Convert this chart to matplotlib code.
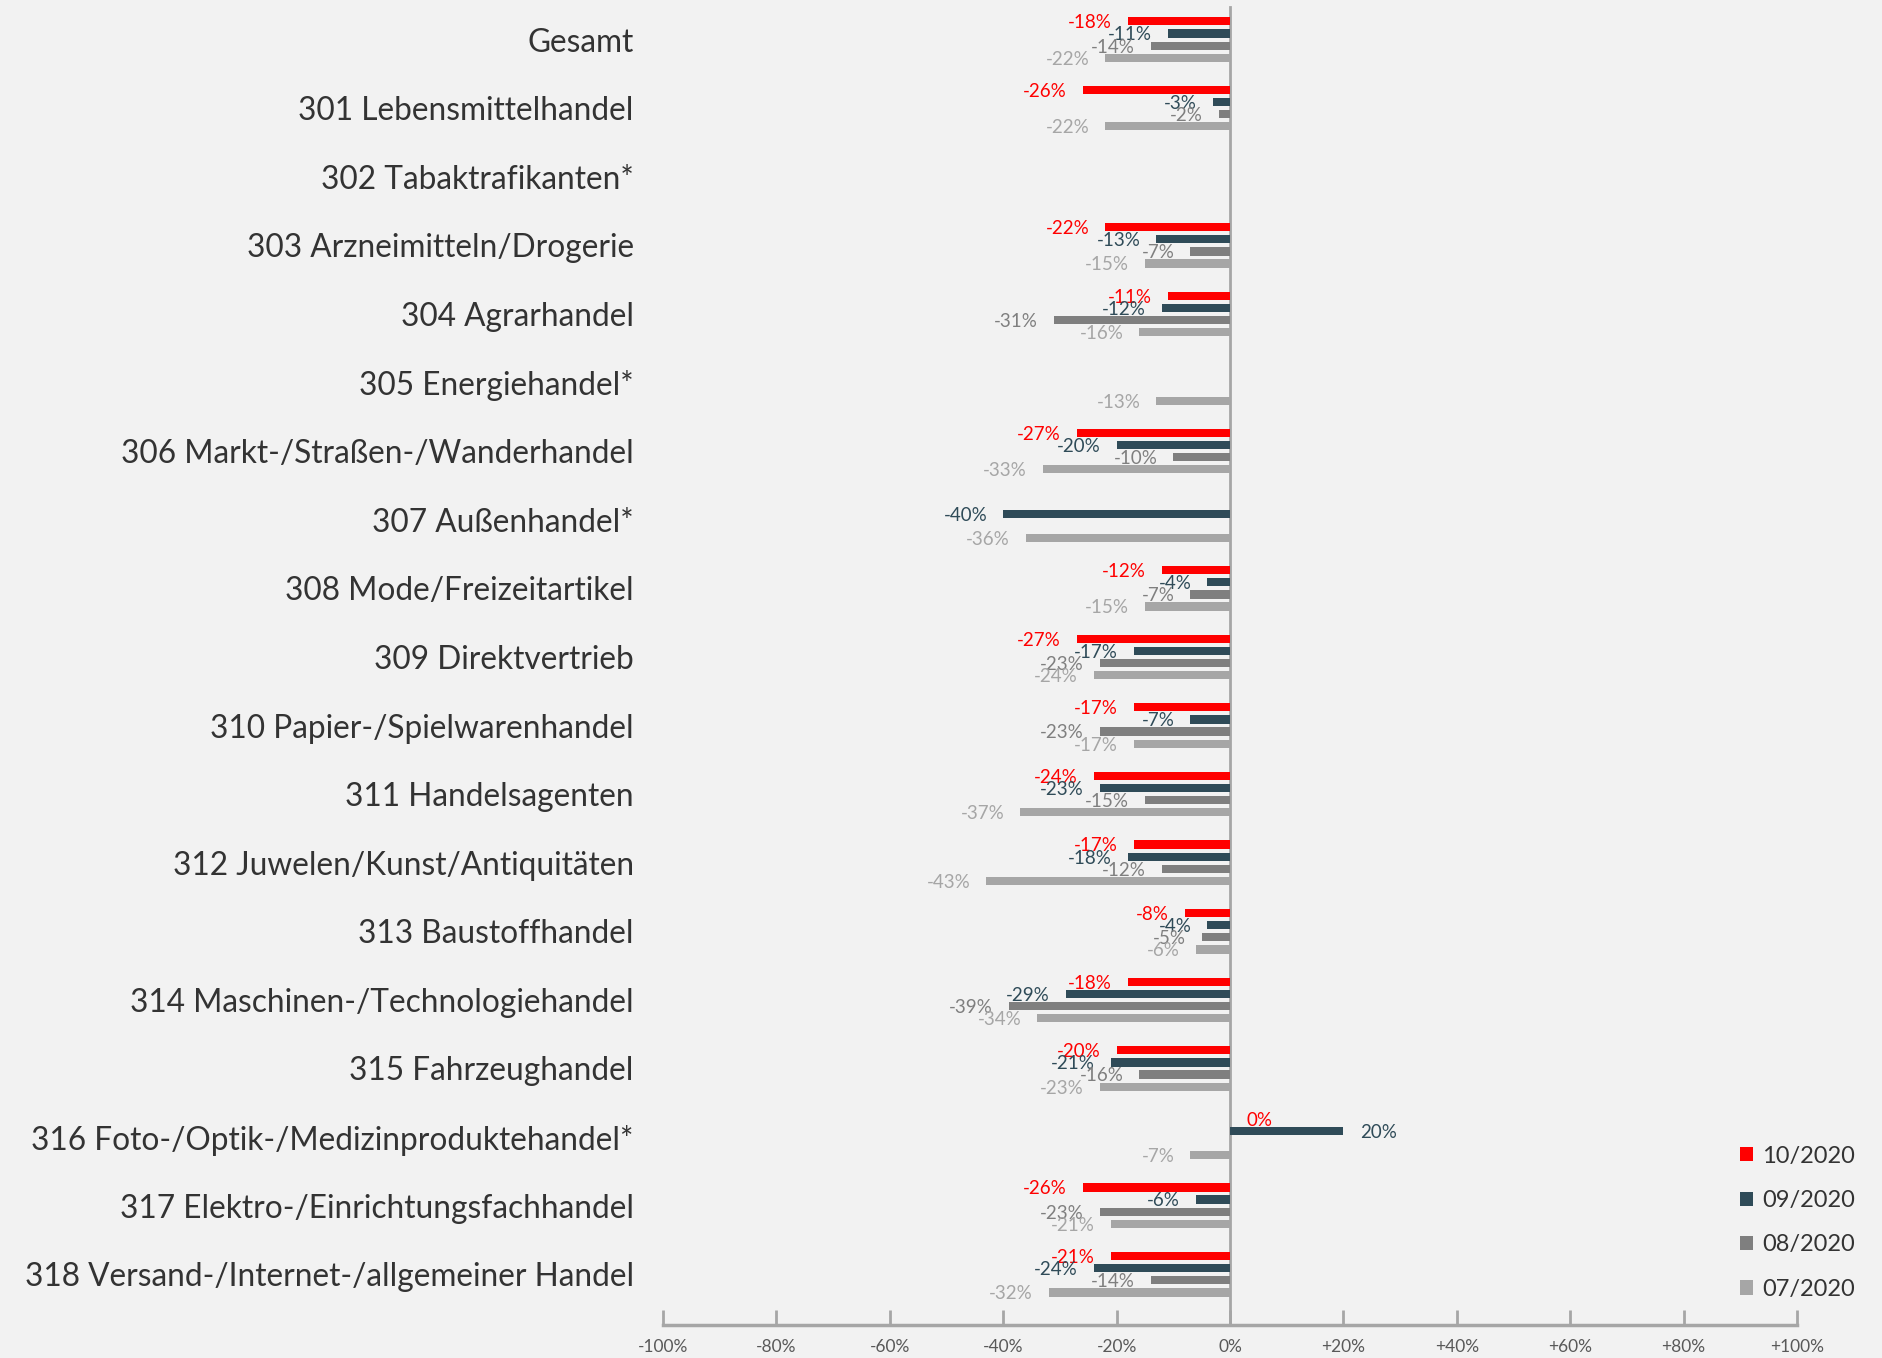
import matplotlib
matplotlib.use("Agg")
import matplotlib.pyplot as plt
from matplotlib.patches import Patch
import numpy as np

plt.rcParams['font.family'] = ['Lato', 'DejaVu Sans']

categories = [
    "Gesamt",
    "301 Lebensmittelhandel",
    "302 Tabaktrafikanten*",
    "303 Arzneimitteln/Drogerie",
    "304 Agrarhandel",
    "305 Energiehandel*",
    "306 Markt-/Straßen-/Wanderhandel",
    "307 Außenhandel*",
    "308 Mode/Freizeitartikel",
    "309 Direktvertrieb",
    "310 Papier-/Spielwarenhandel",
    "311 Handelsagenten",
    "312 Juwelen/Kunst/Antiquitäten",
    "313 Baustoffhandel",
    "314 Maschinen-/Technologiehandel",
    "315 Fahrzeughandel",
    "316 Foto-/Optik-/Medizinproduktehandel*",
    "317 Elektro-/Einrichtungsfachhandel",
    "318 Versand-/Internet-/allgemeiner Handel",
]

N = None
oct_2020 = [-18, -26, N, -22, -11, N, -27, N, -12, -27, -17, -24, -17, -8, -18, -20, 0, -26, -21]
sep_2020 = [-11, -3, N, -13, -12, N, -20, -40, -4, -17, -7, -23, -18, -4, -29, -21, 20, -6, -24]
aug_2020 = [-14, -2, N, -7, -31, N, -10, N, -7, -23, -23, -15, -12, -5, -39, -16, N, -23, -14]
jul_2020 = [-22, -22, N, -15, -16, -13, -33, -36, -15, -24, -17, -37, -43, -6, -34, -23, -7, -21, -32]

series = [oct_2020, sep_2020, aug_2020, jul_2020]
series_names = ["10/2020", "09/2020", "08/2020", "07/2020"]
colors = ["#FF0000", "#2F4B58", "#7F7F7F", "#A6A6A6"]

ticks = [-100, -80, -60, -40, -20, 0, 20, 40, 60, 80, 100]
tick_labels = ["-100%", "-80%", "-60%", "-40%", "-20%", "0%",
               "+20%", "+40%", "+60%", "+80%", "+100%"]

bg = "#F2F2F2"
fig = plt.figure(figsize=(18.83, 13.58), dpi=100, facecolor=bg)
ax = fig.add_axes([0.3521, 0.0243, 0.9543 - 0.3521, 1 - 0.0243])
ax.set_facecolor(bg)

pitch = 0.177
bar_h = 0.12
y_base = np.arange(len(categories))
for k, (vals, col) in enumerate(zip(series, colors)):
    offs = (k - 1.5) * pitch
    for i, v in enumerate(vals):
        if v is None:
            continue
        y = y_base[i] + offs
        ax.barh(y, v, height=bar_h, color=col, zorder=2)
        if v < 0:
            ax.annotate(f"{v}%", (v, y), xytext=(-11.5, -1), textcoords="offset points",
                        ha="right", va="center", fontsize=13.5, color=col, zorder=3)
        else:
            ax.annotate(f"{v}%", (v, y), xytext=(12, -1), textcoords="offset points",
                        ha="left", va="center", fontsize=13.5, color=col, zorder=3)

ax.axvline(0, color="#A6A6A6", lw=2, zorder=1, ymax=0.995)
ax.set_xlim(-100, 100)
ax.set_ylim(18.74, -0.577)

ax.set_yticks(y_base)
ax.set_yticklabels(categories, fontsize=22.8, color="#333333")
ax.tick_params(axis="y", length=0, pad=21)

ax.set_xticks(ticks)
ax.set_xticklabels(tick_labels, fontsize=12.5, color="#595959")
ax.tick_params(axis="x", direction="in", length=11, width=2, color="#A6A6A6", pad=10)

for s in ["top", "right", "left"]:
    ax.spines[s].set_visible(False)
ax.spines["bottom"].set_color("#A6A6A6")
ax.spines["bottom"].set_linewidth(2.5)

handles = [Patch(facecolor=c, edgecolor="none") for c in colors]
ax.legend(handles, series_names, loc="lower left", bbox_to_anchor=(0.931, 0.003),
          frameon=False, fontsize=17, handlelength=0.55, handleheight=0.55,
          handletextpad=0.4, labelspacing=0.99, labelcolor="#333333")

fig.savefig("out.png", dpi=100, facecolor=bg)
